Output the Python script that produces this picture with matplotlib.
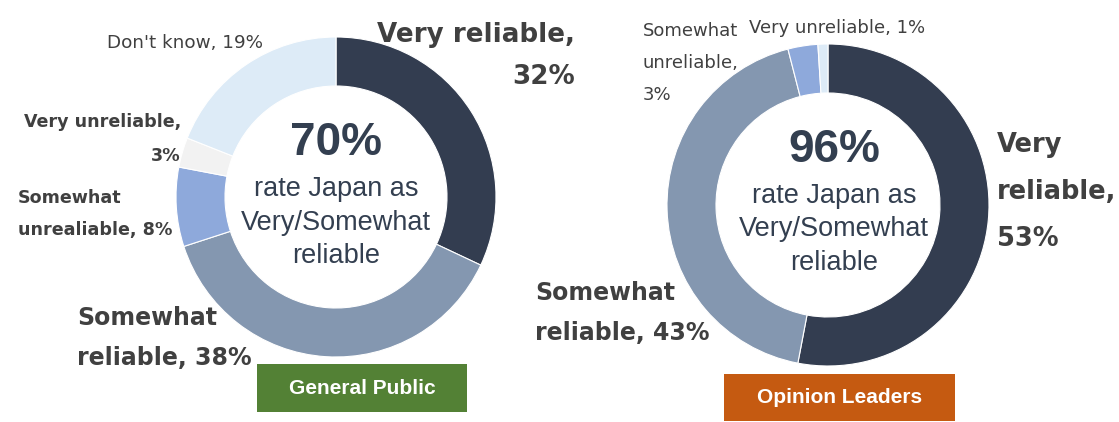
import matplotlib
matplotlib.use("Agg")
import matplotlib.pyplot as plt
from matplotlib.patches import Rectangle

# ── data ─────────────────────────────────────────────────────────────
public_labels = ["Very reliable", "Somewhat reliable", "Somewhat unrealiable",
                 "Very unreliable", "Don't know"]
public_values = [32, 38, 8, 3, 19]
public_total = 70

leaders_labels = ["Very reliable", "Somewhat reliable", "Somewhat unreliable",
                  "Very unreliable"]
leaders_values = [53, 43, 3, 1]
leaders_total = 96

# ── styling ──────────────────────────────────────────────────────────
W, H = 1119, 422
TXT = "#404040"
CENTER_TXT = "#333F50"
public_colors = ["#333D50", "#8497B0", "#8EA9DB", "#F2F2F2", "#DDEBF7"]
leaders_colors = ["#333D50", "#8497B0", "#8EA9DB", "#DDEBF7"]
SANS = "DejaVu Sans"
ARIAL = "Liberation Sans"


def Y(y):
    # pixel row (top-down) -> data y (bottom-up)
    return H - y


fig = plt.figure(figsize=(W / 100, H / 100), dpi=100)
ax = fig.add_axes([0, 0, 1, 1])


def donut(values, colors, cx, cy, r_out, r_in):
    ax.pie(values, colors=colors, startangle=90, counterclock=False,
           center=(cx, Y(cy)), radius=r_out,
           wedgeprops=dict(width=r_out - r_in, edgecolor="white", linewidth=0.8))


def center_text(total, cx, cy):
    ax.text(cx, Y(cy), f"{total}%", ha="center", va="center", fontsize=33,
            fontweight="bold", color=CENTER_TXT, family=ARIAL)
    for i, line in enumerate(["rate Japan as", "Very/Somewhat", "reliable"]):
        ax.text(cx, Y(cy + 46 + 33.5 * i), line, ha="center", va="center",
                fontsize=19.5, color=CENTER_TXT, family=ARIAL)


def tag(text, x0, y0, x1, y1, color):
    ax.add_patch(Rectangle((x0, Y(y1)), x1 - x0, y1 - y0, color=color, lw=0))
    ax.text((x0 + x1) / 2, Y((y0 + y1) / 2), text, ha="center", va="center",
            fontsize=15, fontweight="bold", color="white", family=ARIAL)


# General Public
donut(public_values, public_colors, 336, 197, 160, 111)
center_text(public_total, 336, 143)

ax.text(575, Y(56), f"{public_labels[0]},\n{public_values[0]}%", ha="right",
        va="center", fontsize=18.8, fontweight="bold", color=TXT, family=SANS,
        linespacing=1.75, multialignment="right")
ax.text(77, Y(338), "Somewhat\nreliable, %d%%" % public_values[1], ha="left",
        va="center", fontsize=17, fontweight="bold", color=TXT, family=SANS,
        linespacing=1.8)
ax.text(18, Y(214), "Somewhat\nunrealiable, %d%%" % public_values[2], ha="left",
        va="center", fontsize=12.6, fontweight="bold", color=TXT, family=SANS,
        linespacing=2.05)
ax.text(181, Y(139), f"{public_labels[3]},\n{public_values[3]}%", ha="right",
        va="center", fontsize=12.6, fontweight="bold", color=TXT, family=SANS,
        linespacing=2.1, multialignment="right")
ax.text(107, Y(43), f"{public_labels[4]}, {public_values[4]}%", ha="left",
        va="center", fontsize=13.2, color=TXT, family=SANS)
tag("General Public", 257, 364, 467, 412, "#538135")

# Opinion Leaders
donut(leaders_values, leaders_colors, 828, 205, 161, 112)
center_text(leaders_total, 834, 150)

ax.text(997, Y(192), f"Very\nreliable,\n{leaders_values[0]}%", ha="left",
        va="center", fontsize=18.5, fontweight="bold", color=TXT, family=SANS,
        linespacing=2.05)
ax.text(535, Y(313), "Somewhat\nreliable, %d%%" % leaders_values[1], ha="left",
        va="center", fontsize=17, fontweight="bold", color=TXT, family=SANS,
        linespacing=1.8)
ax.text(643, Y(63), "Somewhat\nunreliable,\n%d%%" % leaders_values[2], ha="left",
        va="center", fontsize=13, color=TXT, family=SANS, linespacing=2.0)
ax.text(749, Y(28), f"{leaders_labels[3]}, {leaders_values[3]}%", ha="left",
        va="center", fontsize=13, color=TXT, family=SANS)
tag("Opinion Leaders", 724, 374, 955, 421, "#C55A11")

ax.set_xlim(0, W)
ax.set_ylim(0, H)
ax.set_aspect("equal")
ax.axis("off")

fig.savefig("out.png", dpi=100, facecolor="white")
